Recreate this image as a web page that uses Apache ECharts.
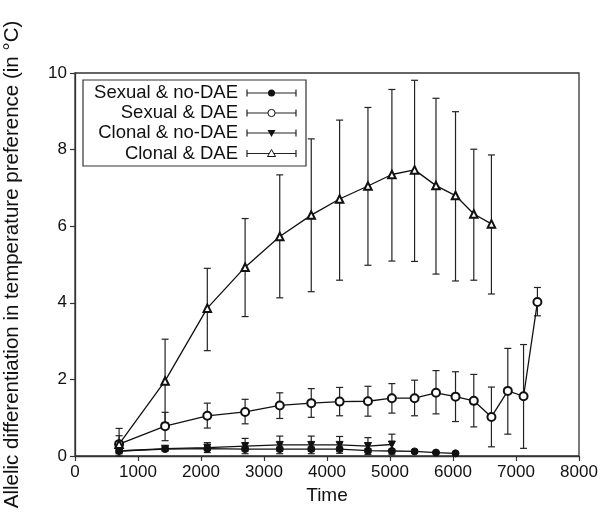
<!DOCTYPE html>
<html>
<head>
<meta charset="utf-8">
<script src="https://cdn.jsdelivr.net/npm/echarts@6/dist/echarts.min.js"></script>
<style>html,body{margin:0;padding:0;background:#fff;}#c{width:604px;height:519px;}</style>
</head>
<body>
<div id="c"></div>
<script>
// ---- data ----
var time = [700, 1430, 2100, 2700, 3250, 3750, 4200, 4650, 5030, 5390, 5730, 6040, 6330, 6610, 6870, 7120, 7340];

var seriesNames = ['Sexual & no-DAE', 'Sexual & DAE', 'Clonal & no-DAE', 'Clonal & DAE'];

// Sexual & no-DAE (filled circles)
var sexNoMean = [0.13, 0.18, 0.19, 0.18, 0.18, 0.18, 0.18, 0.14, 0.13, 0.12, 0.09, 0.07];
var sexNoLow  = [0.09, 0.15, 0.15, 0.13, 0.13, 0.13, 0.13, 0.09, 0.08, 0.09, 0.07, 0.05];
var sexNoHigh = [0.17, 0.21, 0.23, 0.23, 0.23, 0.23, 0.23, 0.19, 0.18, 0.15, 0.11, 0.09];

// Sexual & DAE (open circles)
var sexDaeMean = [0.31, 0.78, 1.05, 1.15, 1.32, 1.38, 1.42, 1.43, 1.51, 1.51, 1.65, 1.55, 1.44, 1.02, 1.70, 1.56, 4.02];
var sexDaeLow  = [0.09, 0.40, 0.73, 0.84, 0.98, 1.01, 1.05, 1.04, 1.12, 1.05, 1.10, 0.90, 0.76, 0.24, 0.57, 0.20, 3.66];
var sexDaeHigh = [0.53, 1.14, 1.38, 1.48, 1.65, 1.76, 1.79, 1.82, 1.89, 1.98, 2.23, 2.20, 2.13, 1.80, 2.81, 2.91, 4.40];

// Clonal & no-DAE (down triangles)
var cloNoMean = [0.13, 0.19, 0.22, 0.26, 0.29, 0.29, 0.29, 0.26, 0.30];
var cloNoLow  = [0.06, 0.13, 0.09, 0.06, 0.06, 0.06, 0.07, 0.04, 0.03];
var cloNoHigh = [0.20, 0.25, 0.35, 0.46, 0.52, 0.52, 0.51, 0.48, 0.57];

// Clonal & DAE (open triangles)
var cloDaeMean = [0.31, 1.96, 3.86, 4.93, 5.73, 6.29, 6.71, 7.05, 7.35, 7.47, 7.06, 6.80, 6.32, 6.06];
var cloDaeLow  = [0.00, 0.87, 2.75, 3.64, 4.13, 4.29, 4.59, 4.98, 5.09, 5.08, 4.75, 4.57, 4.59, 4.23];
var cloDaeHigh = [0.72, 3.05, 4.90, 6.20, 7.34, 8.28, 8.77, 9.10, 9.57, 9.81, 9.34, 8.99, 8.01, 7.86];

var xTicks = [0, 1000, 2000, 3000, 4000, 5000, 6000, 7000, 8000];
var yTicks = [0, 2, 4, 6, 8, 10];

// ---- build ----
var FONT = 'Liberation Sans, Arial, sans-serif';
function pts(mean) { return mean.map(function (v, i) { return [time[i], v]; }); }
function bars(low, high) { return low.map(function (v, i) { return [time[i], v, high[i]]; }); }

function errSeries(low, high) {
  return {
    type: 'custom',
    data: bars(low, high),
    z: 2,
    clip: false,
    renderItem: function (params, api) {
      var x = api.value(0);
      var p1 = api.coord([x, api.value(1)]);
      var p2 = api.coord([x, api.value(2)]);
      var w = 3.5;
      var st = { stroke: '#222', lineWidth: 1.2, fill: null };
      return {
        type: 'group',
        children: [
          { type: 'line', shape: { x1: p1[0], y1: p1[1], x2: p2[0], y2: p2[1] }, style: st },
          { type: 'line', shape: { x1: p1[0] - w, y1: p1[1], x2: p1[0] + w, y2: p1[1] }, style: st },
          { type: 'line', shape: { x1: p2[0] - w, y1: p2[1], x2: p2[0] + w, y2: p2[1] }, style: st }
        ]
      };
    }
  };
}

function lineSeries(name, mean, symbol, size, rotate) {
  return {
    name: name,
    type: 'line',
    data: pts(mean),
    symbol: symbol,
    symbolSize: size,
    symbolRotate: rotate,
    showAllSymbol: true,
    z: 3,
    lineStyle: { color: '#111', width: 1.3 },
    itemStyle: { color: '#111', borderColor: '#111', borderWidth: 1 },
    emphasis: { disabled: true }
  };
}

var chart = echarts.init(document.getElementById('c'), null, { renderer: 'canvas' });

// legend drawn with graphic elements
var legendGraphics = [];
var lx0 = 83, ly0 = 80, lw = 223, lh = 86;
legendGraphics.push({ type: 'rect', shape: { x: lx0, y: ly0, width: lw, height: lh }, style: { fill: '#fff', stroke: '#333', lineWidth: 1.2 }, z: 10 });
var rowY = [93, 113, 133, 153.5];
for (var i = 0; i < 4; i++) {
  var y = rowY[i];
  legendGraphics.push({ type: 'text', x: 238, y: y, style: { text: seriesNames[i], font: '18.5px ' + FONT, fill: '#111', align: 'right', verticalAlign: 'middle' }, z: 11 });
  var st = { stroke: '#222', lineWidth: 1.2 };
  legendGraphics.push({ type: 'line', shape: { x1: 247, y1: y, x2: 296, y2: y }, style: st, z: 11 });
  legendGraphics.push({ type: 'line', shape: { x1: 247, y1: y - 3.5, x2: 247, y2: y + 3.5 }, style: st, z: 11 });
  legendGraphics.push({ type: 'line', shape: { x1: 296, y1: y - 3.5, x2: 296, y2: y + 3.5 }, style: st, z: 11 });
  var cx = 271.5;
  if (i === 0) legendGraphics.push({ type: 'circle', shape: { cx: cx, cy: y, r: 3.5 }, style: { fill: '#111' }, z: 12 });
  if (i === 1) legendGraphics.push({ type: 'circle', shape: { cx: cx, cy: y, r: 3.6 }, style: { fill: '#fff', stroke: '#111', lineWidth: 1 }, z: 12 });
  if (i === 2) legendGraphics.push({ type: 'polygon', shape: { points: [[cx - 4, y - 3], [cx + 4, y - 3], [cx, y + 4]] }, style: { fill: '#111' }, z: 12 });
  if (i === 3) legendGraphics.push({ type: 'polygon', shape: { points: [[cx - 4, y + 3], [cx + 4, y + 3], [cx, y - 4]] }, style: { fill: '#fff', stroke: '#111', lineWidth: 1 }, z: 12 });
}

var option = {
  animation: false,
  backgroundColor: '#fff',
  grid: { left: 75, right: 25, top: 73, bottom: 63, show: true, borderColor: '#333', borderWidth: 1.3, backgroundColor: 'transparent', containLabel: false, outerBoundsMode: 'none' },
  xAxis: {
    type: 'value', min: xTicks[0], max: xTicks[xTicks.length - 1], interval: 1000,
    name: 'Time', nameLocation: 'middle', nameGap: 28,
    nameTextStyle: { fontFamily: FONT, fontSize: 19, color: '#111' },
    axisLine: { show: true, onZero: false, lineStyle: { color: '#333', width: 1.3 } },
    axisTick: { show: true, inside: false, length: 5, lineStyle: { color: '#333', width: 1.2 } },
    axisLabel: { fontFamily: FONT, fontSize: 17, color: '#111', margin: 8, formatter: function (v) { return String(v); } },
    splitLine: { show: false }
  },
  yAxis: {
    type: 'value', min: yTicks[0], max: yTicks[yTicks.length - 1], interval: 2,
    name: 'Allelic differentiation in temperature preference (in °C)', nameLocation: 'middle', nameGap: 52,
    nameTextStyle: { fontFamily: FONT, fontSize: 20.5, color: '#111' },
    axisLine: { show: true, onZero: false, lineStyle: { color: '#333', width: 1.3 } },
    axisTick: { show: true, inside: false, length: 5, lineStyle: { color: '#333', width: 1.2 } },
    axisLabel: { fontFamily: FONT, fontSize: 17, color: '#111', margin: 8, formatter: function (v) { return String(v); } },
    splitLine: { show: false }
  },
  series: [
    errSeries(sexNoLow, sexNoHigh),
    errSeries(sexDaeLow, sexDaeHigh),
    errSeries(cloNoLow, cloNoHigh),
    errSeries(cloDaeLow, cloDaeHigh),
    lineSeries(seriesNames[0], sexNoMean, 'circle', 7, 0),
    lineSeries(seriesNames[1], sexDaeMean, 'emptyCircle', 8, 0),
    lineSeries(seriesNames[2], cloNoMean, 'triangle', 7, 180),
    lineSeries(seriesNames[3], cloDaeMean, 'emptyTriangle', 7.5, 0)
  ],
  graphic: legendGraphics
};
chart.setOption(option);
</script>
</body>
</html>
